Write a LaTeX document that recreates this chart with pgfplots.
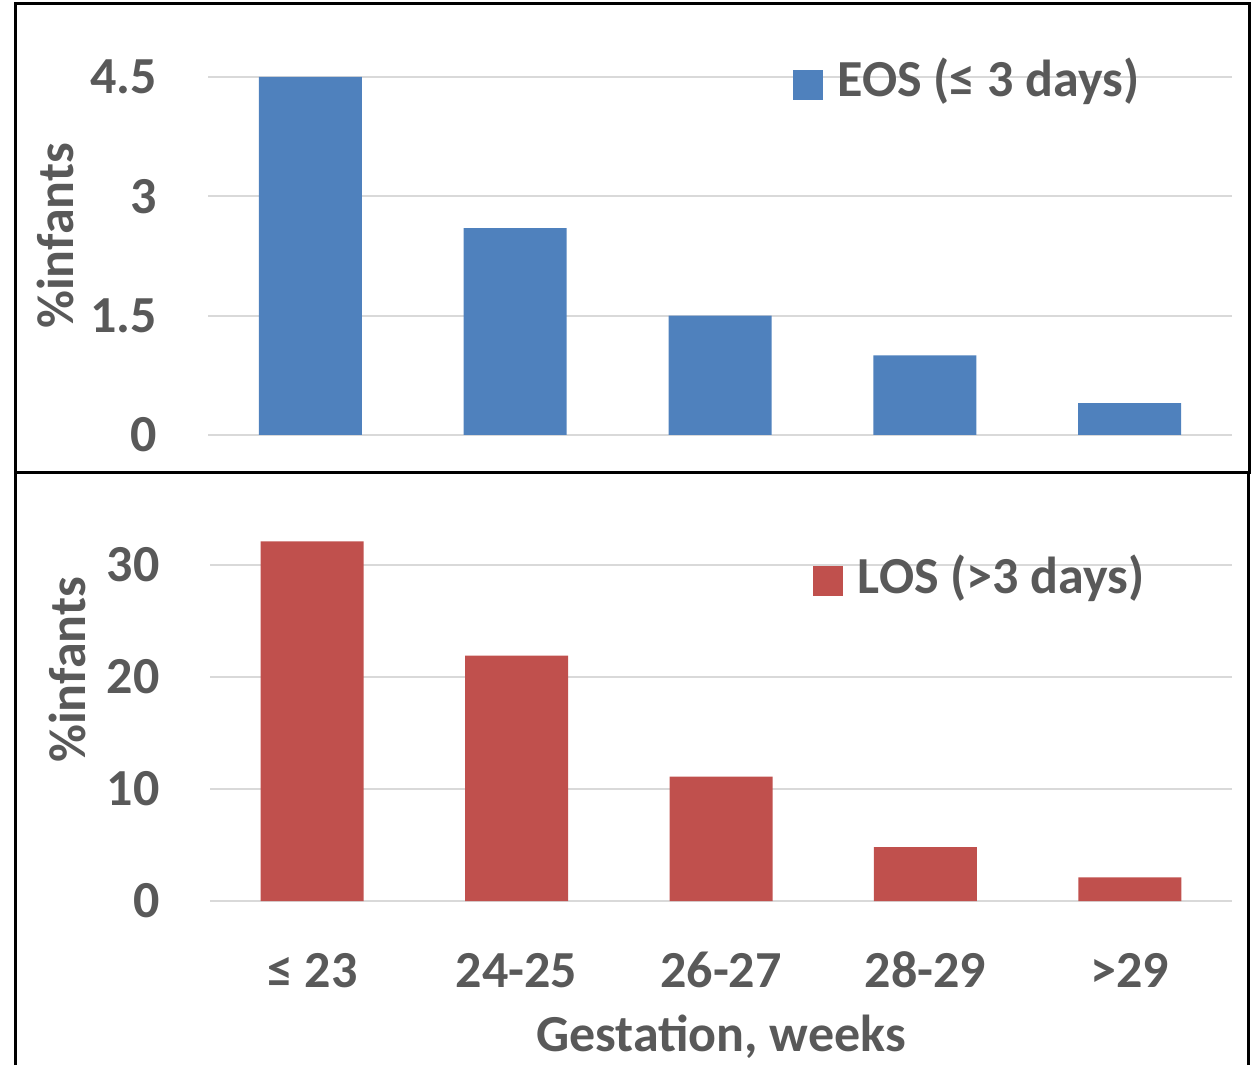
\documentclass[border=0pt]{standalone}
\usepackage{pgfplots}
\pgfplotsset{compat=1.18}
\usepackage{fontspec}
\setmainfont{Carlito}
\definecolor{textgray}{HTML}{595959}
\definecolor{gridgray}{HTML}{D9D9D9}
\definecolor{eosblue}{HTML}{4F81BD}
\definecolor{losred}{HTML}{C0504D}
\begin{document}
\begin{tikzpicture}
\useasboundingbox (0pt,0pt) rectangle (628pt,532.5pt);
\pgfplotsset{
  mybase/.style={
    scale only axis,
    ybar, bar width=51.5pt,
    xmin=-0.5, xmax=4.5, xtick={0,1,2,3,4},
    axis line style={draw=none},
    major tick length=0pt,
    ymajorgrids, grid style={color=gridgray, line width=1pt},
    font=\fontsize{26}{30}\selectfont\bfseries,
    /pgf/number format/assume math mode=true,
    tick label style={text=textgray, inner sep=0pt},
    yticklabel style={anchor=east, xshift=-25.5pt},
    label style={text=textgray},
    legend style={draw=none, fill=none, inner sep=0pt, outer sep=0pt,
      nodes={inner sep=0pt, text=textgray},
      cells={anchor=base west},
      /tikz/every odd column/.append style={column sep=7.5pt}},
    legend image code/.code={\path[#1, draw=none] (0pt,-1.5pt) rectangle (15pt,13.5pt);},
  }
}
% Top panel
\begin{axis}[mybase,
  at={(104pt,315pt)}, anchor=south west,
  width=512pt, height=179pt,
  ymin=0, ymax=4.5,
  ytick={0,1.5,3,4.5}, yticklabels={0,1.5,3,4.5},
  xticklabels={},
  ylabel={\%infants},
  ylabel style={at={(axis description cs:-0.149,0.556)}, anchor=center},
  legend style={at={(rel axis cs:0.571,0.994)}, anchor=west},
]
\addplot[fill=eosblue, draw=none] coordinates {(0,4.5) (1,2.6) (2,1.5) (3,1.0) (4,0.4)};
\addlegendentry{EOS (≤ 3 days)}
\end{axis}
% Bottom panel
\begin{axis}[mybase,
  at={(105pt,82pt)}, anchor=south west,
  width=511pt, height=184.8pt,
  ymin=0, ymax=33,
  ytick={0,10,20,30}, yticklabels={0,10,20,30},
  yticklabel style={xshift=0.5pt},
  xticklabels={≤ 23,24-25,26-27,28-29,>29},
  xticklabel style={anchor=base, yshift=-43pt},
  xlabel={Gestation, weeks},
  xlabel style={at={(axis description cs:0.5,0)}, anchor=base, yshift=-75pt},
  ylabel={\%infants},
  ylabel style={at={(axis description cs:-0.139,0.625)}, anchor=center},
  legend style={at={(rel axis cs:0.59,0.881)}, anchor=west},
]
\addplot[fill=losred, draw=none] coordinates {(0,32.1) (1,21.9) (2,11.1) (3,4.8) (4,2.1)};
\addlegendentry{LOS (>3 days)}
\end{axis}
% Panel borders
\draw[line width=1.5pt] (7.5pt,296pt) rectangle (624.5pt,530.5pt);
\draw[line width=1.5pt] (7.5pt,0pt) -- (7.5pt,296pt);
\draw[line width=1.5pt] (624pt,0pt) -- (624pt,296pt);
\end{tikzpicture}
\end{document}
